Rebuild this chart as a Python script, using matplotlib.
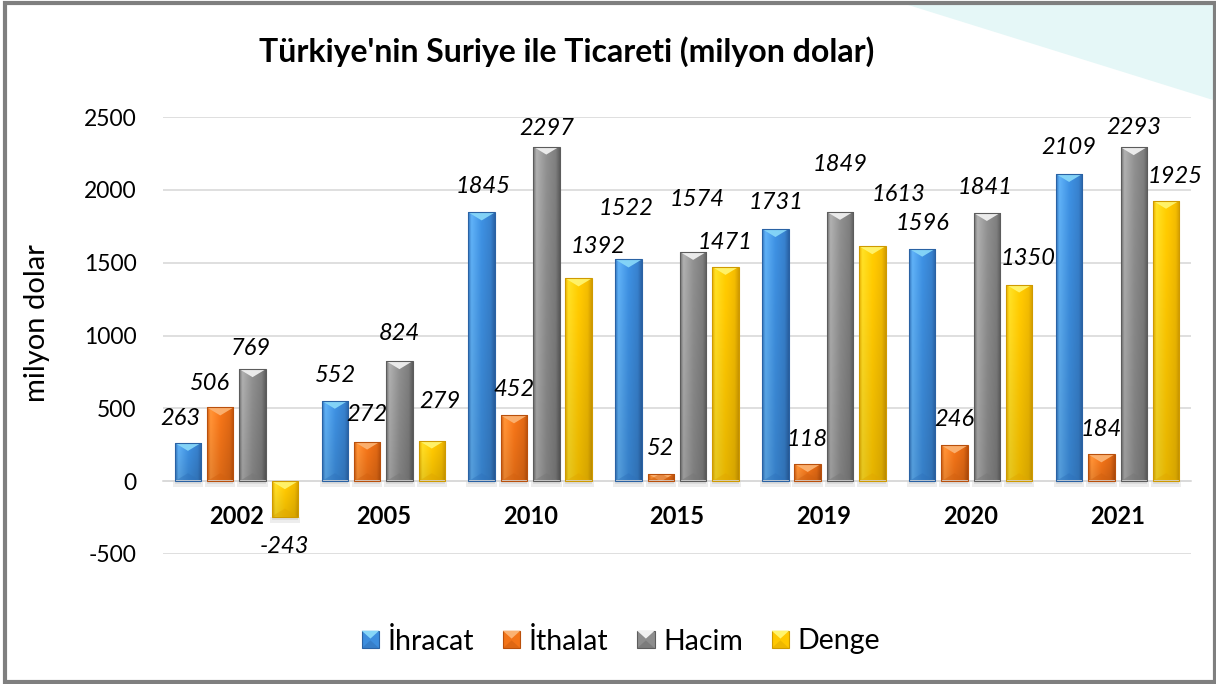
import numpy as np
import matplotlib
matplotlib.use('Agg')
import matplotlib.pyplot as plt
from matplotlib.patches import Rectangle, Polygon, Patch
from matplotlib.legend_handler import HandlerPatch
from matplotlib.colors import to_rgb

# ---------------- data ----------------
years = ['2002', '2005', '2010', '2015', '2019', '2020', '2021']
ihracat = [263, 552, 1845, 1522, 1731, 1596, 2109]
ithalat = [506, 272, 452, 52, 118, 246, 184]
hacim = [769, 824, 2297, 1574, 1849, 1841, 2293]
denge = [-243, 279, 1392, 1471, 1613, 1350, 1925]
series_names = ['İhracat', 'İthalat', 'Hacim', 'Denge']
y_ticks = [-500, 0, 500, 1000, 1500, 2000, 2500]
title = "Türkiye'nin Suriye ile Ticareti (milyon dolar)"
y_label = 'milyon dolar'

# ---------------- styles ----------------
# label nudges in pixels (dx right, dy away from bar end)
label_dx = [[-8, 1, 1, -2, 1, 0, 0],
            [-10, 0, 0, 0, 0, 0, 0],
            [-2, 0, 0, 4, 0, -2, 0],
            [0, 8, 19, 0, 26, 9, 9]]
label_dy = [[24, 25, 26, 51, 27, 25, 26],
            [24, 27, 26, 25, 24, 26, 25],
            [21, 28, 18, 52, 47, 25, 20],
            [30, 39, 32, 24, 52, 26, 24]]

styles = [
    dict(main='#3d8ede', light='#5eaef2', dark='#2a62a4', top='#86d6f8', bottom='#2f72bb'),
    dict(main='#f37418', light='#ff9236', dark='#b9500c', top='#fbb272', bottom='#d2600f'),
    dict(main='#8d8d8d', light='#adadad', dark='#5c5c5c', top='#f0f0f0', bottom='#767676'),
    dict(main='#ffc800', light='#ffdc24', dark='#cf9a00', top='#fff46e', bottom='#e0a600'),
]

plt.rcParams['font.family'] = ['Lato', 'DejaVu Sans']

W, H = 1216, 684
fig = plt.figure(figsize=(W / 100, H / 100), dpi=100)
fig.patch.set_facecolor('white')

# decorative swoosh top-right
fig.add_artist(Polygon([(905 / W, 1 - 4 / H), (1213 / W, 1 - 4 / H), (1213 / W, 1 - 100 / H)],
                       closed=True, transform=fig.transFigure, facecolor='#e5f7f7',
                       edgecolor='none', zorder=-2))

ax_l, ax_r, ax_t, ax_b = 163, 1191, 117, 554
ax = fig.add_axes([ax_l / W, 1 - ax_b / H, (ax_r - ax_l) / W, (ax_b - ax_t) / H])
ax.set_facecolor('none')

ymin, ymax = -500, 2500
n = len(years)
ax.set_xlim(-0.5, n - 0.5)
ax.set_ylim(ymin, ymax)

px_y = (ymax - ymin) / (ax_b - ax_t)   # data units per pixel (y)
px_x = n / (ax_r - ax_l)              # data units per pixel (x)

pitch = 0.22
bw = 0.18
x = np.arange(n)
all_series = [ihracat, ithalat, hacim, denge]


def mix(c1, c2, t):
    a, b = np.array(to_rgb(c1)), np.array(to_rgb(c2))
    return a * (1 - t) + b * t


def bar_image(st, nx=40, ny=60):
    stops = [(0.0, mix(st['dark'], st['main'], 0.4)), (0.12, np.array(to_rgb(st['light']))),
             (0.5, np.array(to_rgb(st['main']))), (0.85, mix(st['main'], st['dark'], 0.35)),
             (1.0, np.array(to_rgb(st['dark'])))]
    xs = np.linspace(0, 1, nx)
    row = np.zeros((nx, 3))
    for ch in range(3):
        row[:, ch] = np.interp(xs, [s[0] for s in stops], [s[1][ch] for s in stops])
    vert = np.linspace(1.03, 0.9, ny)[:, None, None]
    img = np.clip(row[None, :, :] * vert, 0, 1)
    return img


for si, (vals, st) in enumerate(zip(all_series, styles)):
    img = bar_image(st)
    for i, v in enumerate(vals):
        xc = x[i] + (si - 1.5) * pitch
        x0 = xc - bw / 2
        y0, y1 = min(0, v), max(0, v)
        # shadow
        sh = Rectangle((x0 - 2 * px_x, y0 - 6 * px_y), bw + 4 * px_x, 6 * px_y,
                       facecolor='#000000', alpha=0.07, edgecolor='none', zorder=1.5)
        ax.add_patch(sh)
        sh2 = Rectangle((x0, y0 - 3 * px_y), bw, 3 * px_y,
                        facecolor='#000000', alpha=0.07, edgecolor='none', zorder=1.5)
        ax.add_patch(sh2)
        rect = Rectangle((x0, y0), bw, y1 - y0, facecolor='none',
                         edgecolor=st['dark'], lw=0.8, zorder=3)
        ax.add_patch(rect)
        im = ax.imshow(img, extent=(x0, x0 + bw, y0, y1), origin='upper',
                       aspect='auto', interpolation='bilinear', zorder=2)
        im.set_clip_path(rect)
        d = 8 * px_y
        tri_top = Polygon([(x0, y1), (x0 + bw, y1), (xc, y1 - d)], closed=True,
                          facecolor=st['top'], edgecolor='none', alpha=0.95, zorder=2.5)
        ax.add_patch(tri_top)
        tri_top.set_clip_path(rect)
        tri_bot = Polygon([(x0, y0), (x0 + bw, y0), (xc, y0 + d)], closed=True,
                          facecolor=st['bottom'], edgecolor='none', alpha=0.45, zorder=2.5)
        ax.add_patch(tri_bot)
        tri_bot.set_clip_path(rect)
        # data label
        dx = label_dx[si][i] * 0.72
        dy = label_dy[si][i] * 0.72 * (1 if v >= 0 else -1)
        ax.annotate(f'{v}', xy=(xc, v), xytext=(dx, dy), textcoords='offset points',
                    ha='center', va='center', fontsize=17, fontstyle='italic',
                    color='black', zorder=5)

ax.set_xlim(-0.5, n - 0.5)
ax.set_ylim(ymin, ymax)

ax.set_yticks(y_ticks)
ax.set_yticklabels([str(t) for t in y_ticks])
ax.grid(axis='y', color='#d9d9d9', lw=1.2, zorder=0)
ax.set_axisbelow(True)
for s in ['top', 'right', 'left']:
    ax.spines[s].set_visible(False)
ax.spines['bottom'].set_position(('data', 0))
ax.spines['bottom'].set_color('#d9d9d9')
ax.spines['bottom'].set_linewidth(1.2)
ax.set_xticks(x)
ax.set_xticklabels(years, fontweight='bold', fontsize=17)
ax.tick_params(axis='x', length=0, pad=17)
ax.tick_params(axis='y', length=0, pad=19, labelsize=16.5)

fig.text(567 / W, 1 - 52 / H, title, ha='center', va='center', fontsize=23, fontweight='bold')
fig.text(37 / W, 1 - 323 / H, y_label, ha='center', va='center', rotation=90, fontsize=21)


class BevelHandler(HandlerPatch):
    def create_artists(self, legend, orig_handle, xdescent, ydescent, width, height,
                       fontsize, trans):
        st = orig_handle._bevel
        s = min(width, height)
        x0 = -xdescent + (width - s) / 2
        y0 = -ydescent + (height - s) / 2
        base = Rectangle((x0, y0), s, s, facecolor=st['main'], edgecolor=st['dark'],
                         lw=0.8, transform=trans)
        top = Polygon([(x0, y0 + s), (x0 + s, y0 + s), (x0 + s / 2, y0 + s * 0.55)],
                      closed=True, facecolor=st['top'], edgecolor='none', transform=trans)
        bot = Polygon([(x0, y0), (x0 + s, y0), (x0 + s / 2, y0 + s * 0.45)],
                      closed=True, facecolor=st['dark'], alpha=0.35, edgecolor='none',
                      transform=trans)
        return [base, top, bot]


handles = []
for name, st in zip(series_names, styles):
    p = Patch(facecolor=st['main'], label=name)
    p._bevel = st
    handles.append(p)

fig.legend(handles=handles, labels=series_names, loc='center',
           bbox_to_anchor=(621 / W, 1 - 641 / H), ncol=4, frameon=False, fontsize=20.5,
           handlelength=0.62, handleheight=0.62, handletextpad=0.3, columnspacing=1.0,
           handler_map={Patch: BevelHandler()})

# outer frame
fig.add_artist(Rectangle((5 / W, 2 / H), (1214.5 - 5) / W, (682 - 3) / H,
                         transform=fig.transFigure, facecolor='none',
                         edgecolor='#7f7f7f', lw=3, zorder=10))

fig.savefig('out.png', dpi=100)
